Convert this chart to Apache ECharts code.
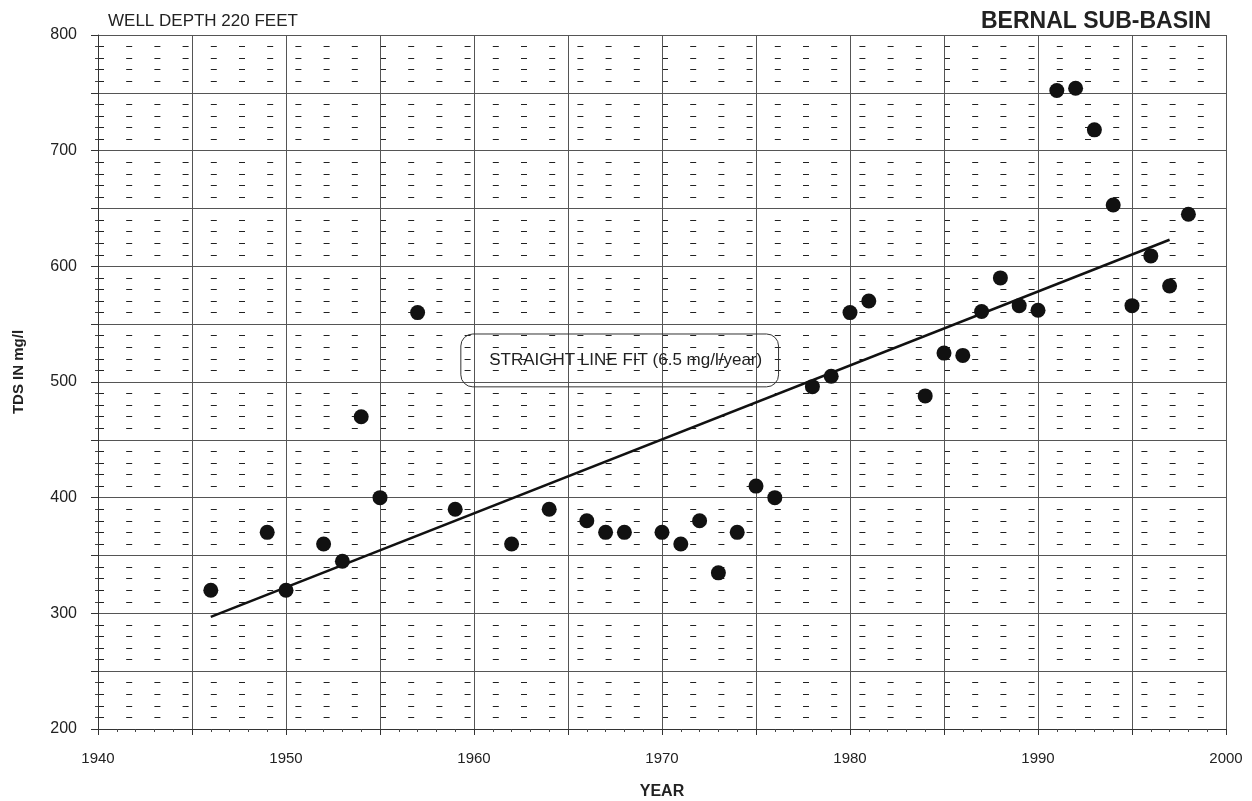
<!DOCTYPE html>
<html>
<head>
<meta charset="utf-8">
<title>Bernal Sub-Basin TDS</title>
<script src="https://cdn.jsdelivr.net/npm/echarts@6.0.0/dist/echarts.min.js"></script>
<style>
  html, body { margin: 0; padding: 0; background: #fff; }
  #chart { width: 1252px; height: 801px; }
</style>
</head>
<body>
<div id="chart"></div>
<script>
const years = [1946, 1949, 1950, 1952, 1953, 1954, 1955, 1957, 1959, 1962,
  1964, 1966, 1967, 1968, 1970, 1971, 1972, 1973, 1974, 1975,
  1976, 1978, 1979, 1980, 1981, 1984, 1985, 1986, 1987, 1988,
  1989, 1990, 1991, 1992, 1993, 1994, 1995, 1996, 1997, 1998];
const tds = [320, 370, 320, 360, 345, 470, 400, 560, 390, 360,
  390, 380, 370, 370, 370, 360, 380, 335, 370, 410,
  400, 496, 505, 560, 570, 488, 525, 523, 561, 590,
  566, 562, 752, 754, 718, 653, 566, 609, 583, 645];

// straight line fit end points
const fitYears = [1946, 1997];
const fitValues = [297, 623];

const fitLabel = "STRAIGHT LINE FIT (6.5 mg/l/year)";
// corners of the label box (year, mg/l)
const boxFrom = [1959.3, 541.5];
const boxTo = [1976.2, 495.8];

const FONT = "Liberation Sans, Arial, sans-serif";

const chart = echarts.init(document.getElementById("chart"));

chart.setOption({
  backgroundColor: "#fff",
  animation: false,
  title: [
    {
      text: "WELL DEPTH 220 FEET",
      left: 103,
      top: 8,
      textStyle: { fontFamily: FONT, fontSize: 17, fontWeight: "normal", color: "#222" }
    },
    {
      text: "BERNAL SUB-BASIN",
      right: 36,
      top: 5,
      textStyle: { fontFamily: FONT, fontSize: 23, fontWeight: "bold", color: "#222" }
    }
  ],
  grid: { left: 98, right: 26, top: 35, bottom: 72, outerBoundsMode: "none", containLabel: false },
  xAxis: {
    type: "value",
    min: 1940,
    max: 2000,
    interval: 5,
    name: "YEAR",
    nameLocation: "middle",
    nameGap: 55,
    nameTextStyle: { fontFamily: FONT, fontSize: 16, fontWeight: "bold", color: "#222" },
    axisLine: { lineStyle: { color: "#333", width: 1 } },
    axisTick: { length: 6, lineStyle: { color: "#333" } },
    minorTick: { show: true, splitNumber: 5, length: 3, lineStyle: { color: "#444" } },
    axisLabel: {
      margin: 22,
      fontFamily: FONT,
      fontSize: 15,
      color: "#222",
      formatter: v => (v % 10 === 0 ? String(v) : "")
    },
    splitLine: { show: true, lineStyle: { color: "#555", width: 1 } }
  },
  yAxis: {
    type: "value",
    min: 200,
    max: 800,
    interval: 50,
    name: "TDS IN mg/l",
    nameLocation: "middle",
    nameGap: 72,
    nameTextStyle: { fontFamily: FONT, fontSize: 15, fontWeight: "bold", color: "#222", padding: [0, 0, 0, 20] },
    axisLine: { show: true, lineStyle: { color: "#333", width: 1 } },
    axisTick: { show: true, length: 7, lineStyle: { color: "#333" } },
    minorTick: { show: true, splitNumber: 5, length: 3, lineStyle: { color: "#444" } },
    axisLabel: {
      margin: 21,
      fontFamily: FONT,
      fontSize: 16,
      color: "#222",
      formatter: v => (v % 100 === 0 ? String(v) : "")
    },
    splitLine: { show: true, lineStyle: { color: "#555", width: 1 } },
    minorSplitLine: {
      show: true,
      lineStyle: { color: "#222", width: 1, type: [6, 22.2], dashOffset: 0 }
    }
  },
  series: [
    {
      name: "fit",
      type: "line",
      data: fitYears.map((y, i) => [y, fitValues[i]]),
      symbol: "none",
      lineStyle: { color: "#111", width: 2.5 },
      z: 3
    },
    {
      name: "TDS",
      type: "scatter",
      data: years.map((y, i) => [y, tds[i]]),
      symbolSize: 15,
      itemStyle: { color: "#111", opacity: 1 },
      z: 4
    }
  ]
});

// label box for the fit, placed from data coordinates
const p0 = chart.convertToPixel({ gridIndex: 0 }, boxFrom);
const p1 = chart.convertToPixel({ gridIndex: 0 }, boxTo);
chart.setOption({
  graphic: [
    {
      type: "rect",
      shape: { x: p0[0], y: p0[1], width: p1[0] - p0[0], height: p1[1] - p0[1], r: 12 },
      style: { fill: "rgba(255,255,255,0)", stroke: "#333", lineWidth: 1 },
      z: 10
    },
    {
      type: "text",
      x: (p0[0] + p1[0]) / 2 + 6,
      y: (p0[1] + p1[1]) / 2,
      style: {
        text: fitLabel,
        font: "17px " + FONT,
        fill: "#222",
        align: "center",
        verticalAlign: "middle"
      },
      z: 11
    }
  ]
});
</script>
</body>
</html>
